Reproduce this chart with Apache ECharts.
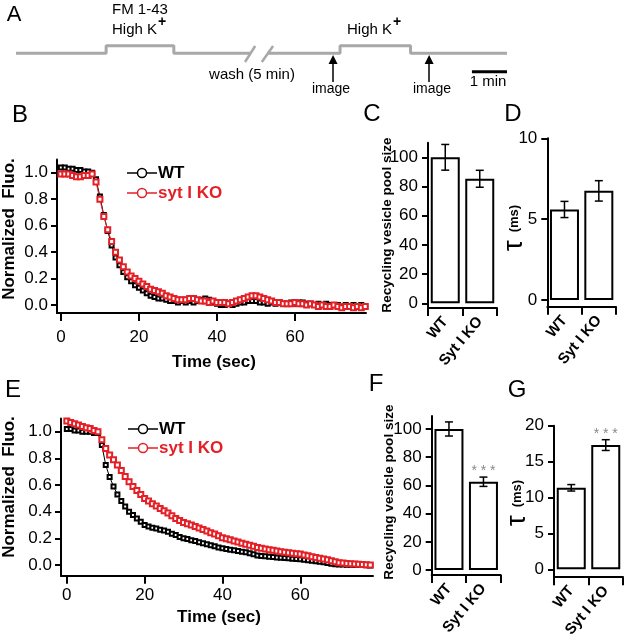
<!DOCTYPE html>
<html><head><meta charset="utf-8">
<script src="https://cdn.jsdelivr.net/npm/echarts@6/dist/echarts.min.js"></script>
<style>html,body{margin:0;padding:0;background:#fff}#c{width:624px;height:640px}</style>
</head><body><div id="c"></div>
<script>
// ---------------- DATA ----------------
// Panel A: stimulation protocol (x in minutes, y: 0 = normal, 1 = high K+)
const protocolSeg1 = [[0,0],[2.57,0],[2.57,1],[4.5,1],[4.5,0],[6.68,0]];
const protocolSeg2 = [[7.17,0],[9.24,0],[9.24,1],[11.25,1],[11.25,0],[14,0]];
const breakMark1 = [[6.53,-1.14],[6.82,0.96]];
const breakMark2 = [[7.01,-1.14],[7.33,0.96]];
const imageTimes = [9.04, 11.78];
const scaleBar = [[13,-2.42],[14,-2.42]];

// Panels B / E: time course (s)
const timeSec = [0,1,2,3,4,5,6,7,8,9,10,11,12,13,14,15,16,17,18,19,20,21,22,23,24,25,26,27,28,29,30,31,32,33,34,35,36,37,38,39,40,41,42,43,44,45,46,47,48,49,50,51,52,53,54,55,56,57,58,59,60,61,62,63,64,65,66,67,68,69,70,71,72,73,74,75,76,77,78];
const wtB = [1.04,1.04,1.03,1.03,1.02,1.02,1.01,1.01,1.00,0.95, 0.82,0.68,0.56,0.45,0.36,0.30,0.25,0.21,0.18,0.15, 0.13,0.11,0.09,0.07,0.06,0.05,0.05,0.04,0.03,0.03, 0.02,0.03,0.02,0.03,0.02,0.03,0.04,0.05,0.04,0.02, 0.01,0.00,0.00,0.01,0.00,0.01,0.02,0.02,0.03,0.03, 0.03,0.02,0.02,0.01,0.02,0.01,0.02,0.01,0.01,0.02, 0.01,0.02,0.02,0.01,0.01,0.00,0.01,0.00,0.01,0.00, 0.00,0.00,-0.01,0.00,-0.01,0.00,-0.01,0.00,-0.01];
const koB = [0.99,0.99,0.99,0.98,0.97,0.97,0.98,0.98,0.99,0.93, 0.80,0.67,0.57,0.48,0.40,0.34,0.29,0.25,0.22,0.20, 0.18,0.16,0.14,0.12,0.11,0.10,0.09,0.07,0.06,0.05, 0.04,0.04,0.04,0.05,0.05,0.04,0.03,0.03,0.02,0.03, 0.02,0.02,0.02,0.01,0.02,0.03,0.04,0.05,0.06,0.07, 0.07,0.06,0.05,0.04,0.03,0.02,0.02,0.01,0.01,0.01, 0.02,0.01,0.01,0.00,0.01,0.00,-0.01,0.00,-0.01,-0.01, 0.00,-0.01,-0.02,-0.01,-0.01,-0.02,-0.01,-0.02,-0.01];
const wtE = [1.02,1.02,1.01,1.01,1.00,1.00,1.00,0.99,0.99,0.90, 0.75,0.66,0.59,0.53,0.48,0.44,0.40,0.375,0.35,0.325, 0.30,0.29,0.28,0.275,0.265,0.26,0.25,0.235,0.225,0.21, 0.20,0.195,0.185,0.18,0.17,0.163,0.155,0.148,0.14,0.132, 0.125,0.12,0.115,0.11,0.105,0.10,0.095,0.088,0.08,0.072, 0.068,0.066,0.063,0.06,0.057,0.055,0.053,0.05,0.047,0.045, 0.043,0.04,0.036,0.032,0.028,0.025,0.02,0.015,0.01,0.006, 0.004,0.004,0.003,0.002,0.001,0.0,0.0,-0.002,-0.004];
const koE = [1.08,1.07,1.06,1.05,1.04,1.03,1.025,1.01,1.00,0.94, 0.875,0.825,0.79,0.75,0.71,0.665,0.625,0.59,0.56,0.53, 0.50,0.48,0.46,0.443,0.425,0.408,0.39,0.37,0.35,0.335, 0.32,0.31,0.30,0.29,0.278,0.267,0.255,0.243,0.232,0.22, 0.205,0.197,0.19,0.18,0.172,0.163,0.155,0.148,0.14,0.132, 0.125,0.12,0.115,0.11,0.105,0.10,0.096,0.092,0.088,0.085, 0.082,0.076,0.07,0.063,0.056,0.05,0.045,0.04,0.033,0.025, 0.018,0.015,0.012,0.01,0.008,0.006,0.004,0.002,0.0];
const timeTicks = [0,20,40,60];
const fluoTicks = [0,0.2,0.4,0.6,0.8,1.0];

// Bar panels
const categories = ['WT','Syt I KO'];
const poolB = [100, 85.3], poolBErr = [8.8, 5.8];
const tauB = [5.6, 6.75], tauBErr = [0.5, 0.63];
const poolE = [100, 62.6], poolEErr = [5, 3.3];
const tauE = [11.35, 17.3], tauEErr = [0.45, 0.75];
const sigB = ['', ''];
const sigE = ['', '* * *'];
const poolTicks = [0,20,40,60,80,100];
const tauBTicks = [0,5,10];
const tauETicks = [0,5,10,15,20];

// ---------------- CHART ----------------
const FONT = '"Liberation Sans", Arial, sans-serif';
const RED = '#e41f26';
const GRAY = '#a8a8a8';
const chart = echarts.init(document.getElementById('c'), null, {renderer:'canvas'});
const pairs = (xs, ys) => xs.map((x, i) => [x, ys[i]]);

function lineX(gi, min, max, margin) {
  return {type:'value', gridIndex:gi, min, max,
    axisLine:{show:true, onZero:false, lineStyle:{color:'#000', width:2}},
    axisTick:{show:true, length:8, customValues:timeTicks, lineStyle:{color:'#000', width:2}},
    axisLabel:{customValues:timeTicks, margin, fontSize:17, color:'#000', fontFamily:FONT},
    splitLine:{show:false}};
}
function lineY(gi, min, max) {
  return {type:'value', gridIndex:gi, min, max,
    axisLine:{show:true, onZero:false, lineStyle:{color:'#000', width:2}},
    axisTick:{show:true, length:6, customValues:fluoTicks, lineStyle:{color:'#000', width:2}},
    axisLabel:{customValues:fluoTicks, margin:9, fontSize:17, color:'#000', fontFamily:FONT,
      formatter: v => Number(v).toFixed(1)},
    splitLine:{show:false}};
}
function barX(gi) {
  return {type:'category', gridIndex:gi, data:categories,
    axisLine:{show:true, onZero:false, lineStyle:{color:'#000', width:2}},
    axisTick:{show:true, length:8, interval:0, alignWithLabel:false, lineStyle:{color:'#000', width:2}},
    axisLabel:{interval:0, rotate:50, margin:11, color:'#000', fontSize:15, fontWeight:'bold', fontFamily:FONT},
    splitLine:{show:false}};
}
function barY(gi, min, max, ticks) {
  return {type:'value', gridIndex:gi, min, max,
    axisLine:{show:true, onZero:false, lineStyle:{color:'#000', width:2}},
    axisTick:{show:true, length:6, customValues:ticks, lineStyle:{color:'#000', width:2}},
    axisLabel:{customValues:ticks, margin:10, fontSize:17, color:'#000', fontFamily:FONT},
    splitLine:{show:false}};
}
function lineSeries(gi, ys, color, size) {
  return {type:'line', xAxisIndex:gi, yAxisIndex:gi, data:pairs(timeSec, ys),
    symbol:'emptyRect', symbolSize:size, showAllSymbol:true, silent:true,
    lineStyle:{color, width:1}, itemStyle:{color, borderColor:color, borderWidth:1.2}};
}
function barSeries(gi, vals) {
  return {type:'bar', xAxisIndex:gi, yAxisIndex:gi, data:vals, barWidth:29, silent:true,
    itemStyle:{color:'#fff', borderColor:'#000', borderWidth:2}, z:2};
}
function errSeries(gi, vals, errs, sig) {
  return {type:'custom', xAxisIndex:gi, yAxisIndex:gi, z:3, silent:true,
    data: vals.map((v, i) => [i, v, errs[i]]),
    encode:{x:0, y:1},
    renderItem: function (params, api) {
      const c = api.value(0), m = api.value(1), e = api.value(2);
      const top = api.coord([c, m + e]), bot = api.coord([c, m - e]);
      const hw = 4;
      const st = {stroke:'#000', lineWidth:1.5};
      const ch = [
        {type:'line', shape:{x1:top[0], y1:top[1], x2:bot[0], y2:bot[1]}, style:st},
        {type:'line', shape:{x1:top[0]-hw, y1:top[1], x2:top[0]+hw, y2:top[1]}, style:st},
        {type:'line', shape:{x1:bot[0]-hw, y1:bot[1], x2:bot[0]+hw, y2:bot[1]}, style:st}
      ];
      const s = sig[params.dataIndex];
      if (s) ch.push({type:'text', x:top[0], y:top[1]-6,
        style:{text:s, fill:'#888', font:'14px ' + FONT, align:'center', verticalAlign:'middle', textAlign:'center', textVerticalAlign:'middle'}});
      return {type:'group', children:ch};
    }};
}

function txt(x, y, text, font, opts) {
  opts = opts || {};
  return {type:'text', x, y, rotation: opts.rot || 0, silent:true,
    style:{text, font, fill: opts.fill || '#000',
      align: opts.align || 'center', textAlign: opts.align || 'center',
      verticalAlign:'middle', textVerticalAlign:'middle', rich: opts.rich}};
}
function legendItem(x1, x2, y, label, color) {
  return [
    {type:'line', silent:true, shape:{x1, y1:y, x2, y2:y}, style:{stroke:color, lineWidth:1.5}},
    {type:'circle', silent:true, shape:{cx:(x1+x2)/2, cy:y, r:4.5}, style:{stroke:color, lineWidth:1.5, fill:'#fff'}},
    txt(x2 + 1, y, label, 'bold 17px ' + FONT, {fill:color, align:'left'})
  ];
}
const tauRich = {t:{fontSize:28, fontFamily:FONT, verticalAlign:'middle'}, m:{fontSize:13, fontWeight:'bold', fontFamily:FONT, verticalAlign:'middle'}};
const R90 = Math.PI / 2;

const graphics = [
  txt(14, 15, 'A', '22px ' + FONT),
  txt(20, 115, 'B', '24px ' + FONT),
  txt(372, 114, 'C', '24px ' + FONT),
  txt(513, 114, 'D', '24px ' + FONT),
  txt(13, 390, 'E', '24px ' + FONT),
  txt(376, 384, 'F', '24px ' + FONT),
  txt(517, 390, 'G', '24px ' + FONT),
  // panel A annotations
  txt(112, 10, 'FM 1-43', '15px ' + FONT, {align:'left'}),
  txt(112, 30, 'High K', '15px ' + FONT, {align:'left'}),
  txt(162, 22, '+', 'bold 14px ' + FONT),
  txt(347, 30, 'High K', '15px ' + FONT, {align:'left'}),
  txt(397, 22, '+', 'bold 14px ' + FONT),
  txt(252, 75, 'wash (5 min)', '15px ' + FONT),
  txt(331, 89, 'image', '14px ' + FONT),
  txt(432, 89, 'image', '14px ' + FONT),
  txt(488, 82, '1 min', '15px ' + FONT),
  // axis titles
  txt(9, 229, 'Normalized  Fluo.', 'bold 17px ' + FONT, {rot:R90}),
  txt(9, 487, 'Normalized  Fluo.', 'bold 17px ' + FONT, {rot:R90}),
  txt(214, 362, 'Time (sec)', 'bold 17px ' + FONT),
  txt(219, 617, 'Time (sec)', 'bold 17px ' + FONT),
  txt(387, 225, 'Recycling vesicle pool size', 'bold 13.6px ' + FONT, {rot:R90}),
  txt(389, 492, 'Recycling vesicle pool size', 'bold 13.6px ' + FONT, {rot:R90}),
  txt(514, 228, '{t|τ} {m|(ms)}', '28px ' + FONT, {rot:R90, rich:tauRich}),
  txt(517, 503, '{t|τ} {m|(ms)}', '28px ' + FONT, {rot:R90, rich:tauRich})
].concat(
  legendItem(127, 157, 173, 'WT', '#000'),
  legendItem(127, 157, 193, 'syt I KO', RED),
  legendItem(128, 158, 429, 'WT', '#000'),
  legendItem(128, 158, 448, 'syt I KO', RED)
);

const option = {
  animation:false,
  backgroundColor:'#fff',
  textStyle:{fontFamily:FONT},
  grid:[
    {left:16, top:30.5, width:491, height:60.8},
    {left:57, top:159.5, width:309, height:153.5},
    {left:61, top:418.4, width:312, height:157.3},
    {left:428, top:142.7, width:69, height:165.3},
    {left:547.3, top:138.3, width:68.7, height:168.4},
    {left:431.7, top:416, width:69, height:159},
    {left:554, top:425.7, width:69, height:152.6}
  ],
  xAxis:[
    {type:'value', gridIndex:0, min:0, max:14, show:false},
    lineX(1, -1, 78.2, 16),
    lineX(2, -1.5, 78.7, 11),
    barX(3), barX(4), barX(5), barX(6)
  ],
  yAxis:[
    {type:'value', gridIndex:0, min:-5, max:3, show:false},
    lineY(1, -0.06, 1.1),
    lineY(2, -0.08, 1.1),
    barY(3, -3.2, 110, poolTicks),
    barY(4, -0.41, 10, tauBTicks),
    barY(5, -3.5, 109.2, poolTicks),
    barY(6, -1.1, 20, tauETicks)
  ],
  series:[
    {type:'line', xAxisIndex:0, yAxisIndex:0, data:protocolSeg1, symbol:'none', silent:true, clip:false, lineStyle:{color:GRAY, width:3}},
    {type:'line', xAxisIndex:0, yAxisIndex:0, data:protocolSeg2, symbol:'none', silent:true, clip:false, lineStyle:{color:GRAY, width:3}},
    {type:'line', xAxisIndex:0, yAxisIndex:0, data:breakMark1, symbol:'none', silent:true, clip:false, lineStyle:{color:GRAY, width:2.5}},
    {type:'line', xAxisIndex:0, yAxisIndex:0, data:breakMark2, symbol:'none', silent:true, clip:false, lineStyle:{color:GRAY, width:2.5}},
    {type:'line', xAxisIndex:0, yAxisIndex:0, data:scaleBar, symbol:'none', silent:true, clip:false, lineStyle:{color:'#000', width:3},
      markLine:{silent:true, symbol:['none','triangle'], symbolSize:9, label:{show:false},
        lineStyle:{color:'#000', width:1.5, type:'solid'},
        data: imageTimes.map(t => [{coord:[t, -3.78]}, {coord:[t, -0.8]}])}},
    lineSeries(1, wtB, '#000', 4),
    lineSeries(1, koB, RED, 5),
    lineSeries(2, wtE, '#000', 4),
    lineSeries(2, koE, RED, 5),
    barSeries(3, poolB), errSeries(3, poolB, poolBErr, sigB),
    barSeries(4, tauB), errSeries(4, tauB, tauBErr, sigB),
    barSeries(5, poolE), errSeries(5, poolE, poolEErr, sigE),
    barSeries(6, tauE), errSeries(6, tauE, tauEErr, sigE)
  ],
  graphic: graphics
};
chart.setOption(option);
</script></body></html>
